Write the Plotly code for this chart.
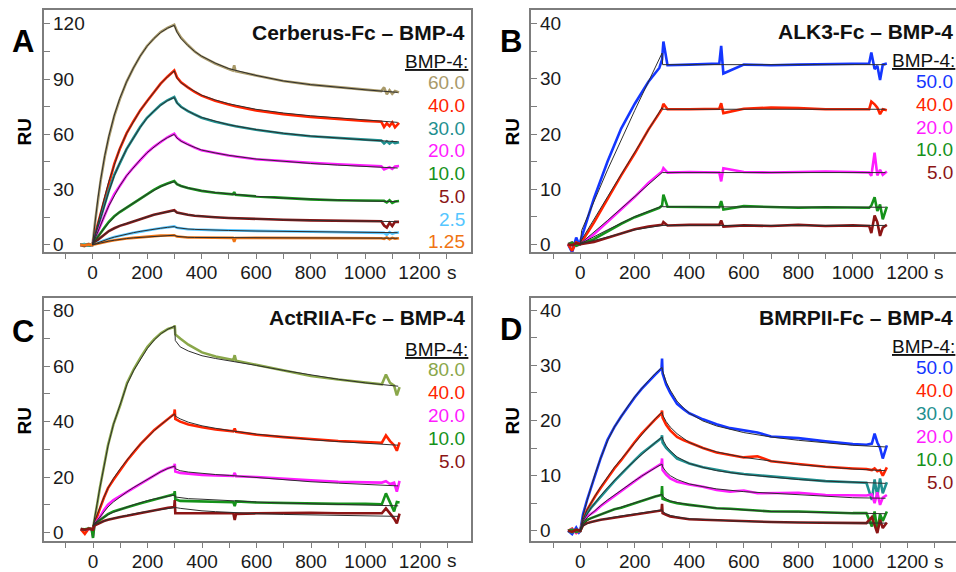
import plotly.graph_objects as go

# ---------------- Panel A : Cerberus-Fc – BMP-4 ----------------
tA = [-45, -30, -15, -5,
      0, 10, 20, 30, 45, 60, 80, 100, 125, 150, 175, 200, 225, 250, 275, 300,
      310, 325, 350, 375, 400, 450, 500, 515, 520, 525, 600, 700, 800, 900, 1000,
      1060, 1070, 1080, 1090, 1100, 1110, 1125]
A_60 = [0, -0.8, 0.5, 0,
        0, 13, 25, 35, 48, 58.5, 70, 79, 88.5, 96, 102.5, 108, 112, 115.5, 117.8, 119.5,
        116, 112.5, 108.5, 105, 102.3, 98.5, 95.5, 94.7, 97.5, 94.3, 92, 89, 87, 85.5, 84.4,
        83.5, 85.5, 81.8, 84, 82, 83.5, 82.8]
A_40 = [0, 0.3, -0.5, 0,
        0, 6, 11.5, 17, 26, 34.5, 44, 52, 60.5, 67, 73, 78, 83, 87.5, 91.3, 94.7,
        91, 88.3, 85.5, 83, 81, 78.3, 76.2, 75.6, 75.3, 75.2, 73, 71, 69.5, 68.3, 67.3,
        66.8, 64, 66, 64.5, 66.5, 63.8, 66.2]
A_30 = [0, -0.4, 0.3, 0,
        0, 5, 10, 14.5, 22, 29.5, 38, 44, 52, 58, 64, 69, 72.5, 76, 78.5, 80.3,
        77.2, 75, 72.6, 70.6, 69, 66.8, 65, 64.6, 64.5, 64.4, 62.5, 60.5, 59, 58, 57,
        56.6, 55, 56.2, 55, 56, 55.2, 55.7]
A_20 = [0, 0.2, -0.3, 0,
        0, 3.7, 7.3, 11, 16.3, 21.5, 27.5, 32, 37.5, 42, 46.3, 50, 53.2, 56, 58.4, 60.4,
        58.2, 56.5, 54.5, 52.8, 51.3, 49.7, 48.5, 48.2, 48, 48, 46.5, 45.3, 44.5, 43.8, 43,
        42.6, 41, 41.8, 42.2, 41.2, 42.5, 42.8]
A_10 = [0, 0.4, -0.4, 0,
        0, 2.3, 4.5, 6.5, 9.5, 12.5, 15.5, 17.8, 20.3, 22.6, 25, 27.4, 29.8, 31.8, 33.3, 34.6,
        33, 32, 30.9, 30, 29.3, 28.3, 27.6, 27.4, 28.6, 27.2, 26.3, 25.3, 24.7, 24.2, 23.9,
        23.8, 23.9, 23, 24.2, 22.8, 23.5, 23.8]
A_5 = [0, -0.3, 0.3, 0,
       0, 1.5, 2.8, 4, 5.8, 7.5, 9, 10.3, 11.4, 12.6, 14, 15.3, 16.3, 17.2, 18, 18.8,
       17.6, 17, 16.3, 15.8, 15.4, 15, 14.6, 14.5, 14.4, 14.4, 14, 13.6, 13.3, 13.1, 13,
       12.8, 10.5, 9.4, 12, 10.2, 12.5, 12.5]
A_2_5 = [0, 0.2, -0.2, 0,
         0, 0.6, 1.2, 1.8, 2.6, 3.3, 4.2, 5, 5.8, 6.5, 7.3, 8, 8.5, 9, 9.5, 10,
         9.3, 8.9, 8.5, 8.3, 8.1, 8, 7.9, 7.9, 7.8, 7.8, 7.6, 7.4, 7.2, 7, 6.9,
         6.8, 6.5, 5.5, 6.9, 6, 6.6, 6.7]
A_1_25 = [0, -0.2, 0.2, 0,
          0, 0.4, 0.8, 1.1, 1.6, 2, 2.5, 3, 3.4, 3.8, 4.2, 4.5, 4.8, 5, 5.1, 5.2,
          4.5, 4.2, 4, 3.95, 3.9, 3.85, 3.8, 3.8, 1.7, 3.7, 3.8, 3.8, 3.7, 3.7, 3.6,
          3.6, 3.2, 4, 3, 3.8, 3.3, 3.6]
tA_fit = [0, 10, 20, 30, 45, 60, 80, 100, 125, 150, 175, 200, 225, 250, 275, 300,
          310, 325, 350, 375, 400, 450, 500, 600, 700, 800, 900, 1000, 1120]
A_60_fit = [0, 13.5, 25.5, 35.5, 48.5, 59, 70.5, 79.5, 88.5, 96, 102.5, 107.8, 112, 115.3, 117.6, 119.2,
            115.5, 112, 108.2, 105, 102.5, 98.7, 95.7, 92, 89, 87, 85.5, 84.2, 82.8]
A_40_fit = [0, 6.2, 12, 17.5, 26.3, 34.5, 44, 52.3, 60.5, 67, 73, 78, 83, 87.5, 91.2, 94.5,
            90.5, 88, 85.5, 83.2, 81.3, 78.7, 76.6, 73.6, 71.6, 70.1, 68.9, 67.8, 66.5]
A_30_fit = [0, 5, 10, 14.8, 22, 29, 37.5, 44.5, 52, 58, 63.8, 68.8, 72.6, 75.8, 78.3, 80,
            77, 74.8, 72.6, 70.7, 69.2, 67, 65.2, 62.6, 60.6, 59.1, 58, 57, 56]
A_20_fit = [0, 3.8, 7.5, 11, 16.2, 21.2, 27, 32, 37.5, 42, 46.2, 50, 53.2, 56, 58.2, 60,
            58, 56.3, 54.4, 52.9, 51.5, 49.9, 48.6, 46.6, 45.2, 44.2, 43.3, 42.5, 41.7]
A_10_fit = [0, 2.3, 4.5, 6.5, 9.4, 12.2, 15.3, 17.9, 20.4, 22.7, 25, 27.4, 29.6, 31.6, 33.1, 34.3,
            32.9, 31.9, 30.9, 30.1, 29.4, 28.4, 27.7, 26.4, 25.4, 24.7, 24.2, 23.8, 23.5]
A_5_fit = [0, 1.5, 2.8, 4, 5.8, 7.4, 9, 10.4, 11.6, 12.8, 14.1, 15.3, 16.3, 17.2, 17.9, 18.5,
           17.5, 16.9, 16.3, 15.9, 15.5, 15, 14.6, 14, 13.6, 13.3, 13, 12.8, 12.6]
A_2_5_fit = [0, 0.6, 1.2, 1.8, 2.6, 3.3, 4.2, 5, 5.8, 6.6, 7.3, 8, 8.5, 9, 9.5, 9.9,
             9.3, 8.9, 8.6, 8.4, 8.2, 8, 7.8, 7.5, 7.3, 7.1, 6.9, 6.8, 6.6]
A_1_25_fit = [0, 0.4, 0.8, 1.1, 1.6, 2, 2.5, 3, 3.4, 3.8, 4.1, 4.4, 4.7, 4.9, 5.1, 5.2,
              4.6, 4.3, 4.1, 4, 4, 3.9, 3.9, 3.8, 3.8, 3.7, 3.7, 3.6, 3.6]
A_labels = ["60.0", "40.0", "30.0", "20.0", "10.0", "5.0", "2.5", "1.25"]
A_yticks = [0, 30, 60, 90, 120]

# ---------------- Panel B : ALK3-Fc – BMP-4 ----------------
tB = [-45, -30, -15, -5, 0, 50, 100, 150, 200, 250, 290, 300, 305,
      320, 400, 510, 517, 525, 600, 700, 800, 900, 1000,
      1060, 1068, 1080, 1090, 1100, 1110, 1125]
B_50 = [0, -1.5, 1.2, 0, 0.5, 8.3, 15, 21, 25.5, 29.5, 32, 33.5, 36.8,
        32.5, 32.6, 32.8, 36, 31, 32.6, 32.5, 32.6, 32.7, 32.8,
        32.8, 34.8, 31.8, 32.4, 29.8, 32.6, 32.8]
B_40 = [0, -1.2, 0.3, 0, 0, 3.9, 8.2, 12.5, 16.5, 20.8, 23.8, 24.6, 25.5,
        24.5, 24.5, 24.6, 25.6, 23.8, 24.6, 24.8, 24.7, 24.5, 24.5,
        24.5, 25.9, 25.4, 24.8, 23.6, 24.5, 24.3]
B_20 = [0, 0.3, -0.3, 0, 0, 1.8, 4.1, 6.4, 8.6, 11.1, 12.7, 13.2, 13.8,
        13, 13.1, 13, 11.4, 13.8, 13.1, 13, 13.1, 13.2, 13.1,
        13, 12.4, 16.6, 12.5, 13.5, 12.6, 13.2]
B_10 = [0, 0.3, -0.3, 0, 0, 0.9, 2.3, 3.7, 4.9, 5.9, 6.6, 7, 9,
        6.8, 6.8, 6.7, 7.8, 6.3, 6.9, 6.7, 6.6, 6.7, 6.6,
        6.6, 7, 8.5, 6, 7.2, 4.5, 6.8]
B_5 = [0, -0.2, 0.2, 0, 0, 0.4, 1.2, 2, 2.7, 3.2, 3.4, 3.5, 4,
       3.4, 3.5, 3.5, 4.3, 3.2, 3.4, 3.3, 3.5, 3.3, 3.4,
       3.3, 2, 5.2, 4, 1.5, 3, 3.5]
tB_fit = [0, 5, 100, 200, 300, 302, 1120]
B_50_fit = [0, 2.5, 13.5, 24.3, 34.7, 32.6, 32.6]
B_40_fit = [0, 0.8, 8.6, 16.8, 24.8, 24.5, 24.5]
B_20_fit = [0, 0.3, 4.3, 8.7, 13, 13, 13]
B_10_fit = [0, 0.2, 2.6, 5, 6.9, 6.8, 6.7]
B_5_fit = [0, 0.1, 1.3, 2.6, 3.4, 3.4, 3.4]
B_labels = ["50.0", "40.0", "20.0", "10.0", "5.0"]
B_yticks = [0, 10, 20, 30, 40]

# ---------------- Panel C : ActRIIA-Fc – BMP-4 ----------------
tC = [-45, -30, -15, -5,
      0, 5, 15, 25, 40, 55, 75, 100, 125, 150, 175, 200, 225, 250, 275, 298, 300,
      302, 320, 350, 400, 450, 515, 520, 525, 600, 700, 800, 900, 1000,
      1060, 1075, 1090, 1105, 1115, 1125]
C_80 = [1.2, 0.8, 1.5, 1.2,
        1.5, 4, 10, 16, 24, 31.5, 39, 46, 54, 59, 63.2, 67, 69.8, 72, 73.5, 74.2, 74.8,
        71.5, 70, 67.8, 65, 63.5, 62.3, 64, 62, 60.5, 58.5, 56.5, 55.2, 54.2,
        53.5, 57, 54, 53, 49.5, 52.5]
C_40 = [1.2, -0.5, 1.5, 1.2,
        1.5, 3, 6, 8.5, 12.5, 16, 19, 22.5, 26, 29, 32, 34.5, 37, 39, 41, 42.8, 44.4,
        41, 40, 39, 38, 37.2, 36.5, 37.5, 36.3, 35.3, 34.4, 33.6, 33, 32.6,
        32.4, 35, 33, 31.5, 29.5, 32.5]
C_20 = [1.2, 1, 1.3, 1.2,
        -1.5, 2.5, 4.2, 5.5, 8, 10, 11.7, 13.2, 14.7, 16.1, 17.6, 19, 20.5, 22, 23.2, 23.8, 24.8,
        22, 21.5, 21.2, 20.8, 20.6, 20.4, 21.5, 20.3, 20, 19.3, 18.8, 18.3, 18,
        18, 18.5, 17.5, 18, 14.7, 18.6]
C_10 = [1.2, 1.1, 1.4, 1.2,
        -2, 2.5, 3.7, 4.5, 5.7, 6.6, 7.6, 8.4, 9.1, 9.8, 10.5, 11.2, 12, 12.7, 13.3, 13.8, 14.9,
        12, 11.4, 11.3, 11.2, 11, 10.9, 9.5, 11.2, 10.8, 10.6, 10.5, 10.3, 10.3,
        10.2, 14.1, 10.5, 7.6, 11, 10.8]
C_5 = [1.2, 1, 1.3, 1.2,
       1, 2.5, 3, 3.5, 4.1, 4.6, 5.1, 5.6, 6, 6.5, 7.1, 7.6, 8.1, 8.5, 8.9, 9.2, 11.7,
       6.9, 6.9, 6.9, 6.8, 6.9, 6.9, 4.5, 6.7, 6.9, 7, 7.1, 6.9, 6.8,
       6.9, 8.7, 7, 5, 3.3, 6.8]
tC_fit = [0, 5, 15, 25, 40, 55, 75, 100, 125, 150, 175, 200, 225, 250, 275, 300,
          302, 320, 350, 400, 450, 500, 600, 700, 800, 900, 1000, 1120]
C_80_fit = [2, 4.5, 10.3, 16, 24, 31.2, 39, 46.5, 53.5, 58.6, 62.8, 66.5, 69.5, 71.8, 73.4, 74.5,
            69.3, 67, 65.5, 63.8, 62.8, 62, 60.3, 58.5, 56.8, 55.3, 54, 52.8]
C_40_fit = [2.5, 3.8, 6.5, 9, 12.7, 16, 19.5, 23, 26.3, 29.3, 32, 34.5, 36.8, 39, 41, 42.8,
            42, 41, 39.8, 38.5, 37.6, 36.8, 35.5, 34.4, 33.5, 32.8, 32.2, 31.5]
C_20_fit = [2.5, 3, 4.3, 5.5, 7.4, 9.2, 11, 13, 14.7, 16.3, 17.8, 19.3, 20.7, 22, 23.1, 24,
            23, 22.3, 21.8, 21.3, 20.9, 20.6, 19.8, 19, 18.3, 17.8, 17.3, 16.8]
C_10_fit = [2.5, 3, 3.8, 4.5, 5.5, 6.4, 7.3, 8.3, 9.2, 10, 10.8, 11.5, 12.1, 12.6, 13.1, 13.5,
            12.8, 12.5, 12.2, 12, 11.7, 11.4, 11, 10.6, 10.3, 10, 9.8, 9.6]
C_5_fit = [2.5, 2.8, 3.2, 3.5, 4.1, 4.6, 5.1, 5.7, 6.2, 6.7, 7.2, 7.6, 8, 8.4, 8.8, 9.2,
           9, 8.7, 8.3, 7.8, 7.5, 7.2, 6.8, 6.5, 6.3, 6.1, 6, 5.8]
C_labels = ["80.0", "40.0", "20.0", "10.0", "5.0"]
C_yticks = [0, 20, 40, 60, 80]

# ---------------- Panel D : BMRPII-Fc – BMP-4 ----------------
tD = [-45, -30, -15, -5,
      0, 10, 25, 40, 55, 75, 100, 125, 150, 175, 200, 225, 250, 275, 298, 300,
      302, 315, 330, 355, 380, 400, 450, 500, 550, 600, 650, 700, 800, 900, 1000,
      1050, 1070, 1080, 1090, 1100, 1110, 1125]
D_50 = [0, -0.6, 0.6, -0.3,
        0, 3, 5.6, 8, 10.3, 13.2, 16.5, 18.8, 20.7, 22.5, 24.2, 25.7, 27.1, 28.3, 29.4, 31.2,
        28.5, 26.5, 25, 23, 22, 21.3, 20.2, 19.3, 18.6, 18.2, 17.8, 17.1, 16.8, 16.2, 15.7,
        15.6, 15.8, 17.6, 16, 15, 13.1, 15.5]
D_40 = [0, 0.4, -0.4, 0,
        0, 2, 3.8, 5.1, 6.3, 7.8, 9.6, 11.3, 12.8, 14.5, 16.1, 17.6, 19, 20.2, 21.3, 21.8,
        20.5, 19.2, 18.2, 17, 16.4, 16, 15, 14.2, 13.8, 13.3, 13.5, 12.6, 12.1, 11.6, 11.3,
        11.2, 11, 11.3, 10.8, 11, 10, 11.5]
D_30 = [0, -0.3, 0.3, 0,
        0, 1.8, 3.2, 4.2, 5.1, 6.3, 7.6, 9, 10.3, 11.6, 12.8, 14, 15, 16, 16.8, 17.3,
        16, 15, 14.3, 13.1, 12.6, 12.2, 11.5, 11, 10.6, 10.3, 10.1, 9.8, 9.4, 9, 8.8,
        8.7, 5.6, 9.3, 6.2, 9.5, 6.8, 8.8]
D_20 = [0, 0.3, -0.3, 0,
        0, 1.6, 2.6, 3.1, 3.6, 4.5, 5.4, 6.4, 7.3, 8.2, 9, 9.9, 10.7, 11.5, 12.2, 13.1,
        11, 10.2, 9.5, 8.9, 8.6, 8.4, 8, 7.4, 7.1, 7.3, 6.8, 6.8, 6.9, 6.5, 6.4,
        6.4, 6.6, 5, 7, 4.7, 6, 6.5]
D_10 = [0, 0.2, -0.2, 0,
        0, 1.3, 2, 2.3, 2.6, 3, 3.5, 3.9, 4.2, 4.6, 5, 5.5, 5.9, 6.2, 6.5, 8.1,
        5.8, 5.5, 5.3, 5, 4.8, 4.7, 4.4, 4.1, 4, 3.8, 3.7, 3.5, 3.5, 3.3, 3.2,
        3.2, 0.8, 3.5, 0, 3, 1.8, 3.5]
D_5 = [0, -0.2, 0.2, 0,
       0, 1, 1.4, 1.6, 1.8, 2, 2.2, 2.4, 2.6, 2.8, 2.9, 3.2, 3.4, 3.6, 3.7, 4.9,
       3.2, 2.9, 2.6, 2.4, 2.2, 2.1, 2, 1.9, 1.8, 1.7, 1.6, 1.6, 1.5, 1.5, 1.4,
       1.4, 2.5, 1, -0.4, 2, 0.5, 1.5]
tD_fit = [0, 10, 25, 40, 55, 75, 100, 125, 150, 175, 200, 225, 250, 275, 300,
          302, 315, 330, 355, 380, 400, 450, 500, 600, 700, 800, 900, 1000, 1120]
D_50_fit = [0, 2.8, 5.5, 8.1, 10.4, 13.2, 16.3, 18.8, 20.8, 22.6, 24.3, 25.8, 27.2, 28.5, 29.6,
            29, 27, 25.5, 23.5, 22.2, 21.3, 19.9, 19, 17.8, 17, 16.4, 15.9, 15.5, 15.2]
D_40_fit = [0, 2, 3.8, 5.2, 6.4, 8, 9.8, 11.5, 13, 14.5, 16, 17.5, 19, 20.3, 21.5,
            21, 19.8, 18.8, 17.6, 16.7, 16, 15, 14.3, 13.3, 12.6, 12, 11.6, 11.2, 10.9]
D_30_fit = [0, 1.7, 3, 4.2, 5.1, 6.4, 7.8, 9.2, 10.4, 11.6, 12.7, 13.9, 15, 16, 17,
            16.6, 15.4, 14.5, 13.4, 12.7, 12.2, 11.5, 10.9, 10.2, 9.7, 9.3, 9, 8.8, 8.6]
D_20_fit = [0, 1.4, 2.4, 3.1, 3.7, 4.6, 5.6, 6.5, 7.4, 8.3, 9.1, 9.9, 10.7, 11.4, 12.1,
            11.6, 10.7, 10, 9.3, 8.8, 8.5, 8, 7.6, 7.1, 6.8, 6.5, 6.2, 6, 5.9]
D_10_fit = [0, 1.1, 1.8, 2.3, 2.6, 3, 3.5, 3.9, 4.3, 4.7, 5.1, 5.5, 5.8, 6.2, 6.6,
            6.3, 5.8, 5.4, 5.1, 4.9, 4.7, 4.4, 4.1, 3.8, 3.5, 3.4, 3.3, 3.2, 3.1]
D_5_fit = [0, 0.9, 1.3, 1.6, 1.8, 2, 2.3, 2.5, 2.7, 2.9, 3.1, 3.3, 3.4, 3.6, 3.8,
           3.5, 3.1, 2.8, 2.5, 2.3, 2.2, 2.05, 1.9, 1.7, 1.6, 1.5, 1.5, 1.4, 1.4]
D_labels = ["50.0", "40.0", "30.0", "20.0", "10.0", "5.0"]
D_yticks = [0, 10, 20, 30, 40]

# ---------------- styles ----------------
TAN, RED, TEAL, MAG, GRN, DRED, LBLUE, ORNG = ("#a99a6a", "#ff2400", "#1f9090", "#ff1cff",
                                              "#15921a", "#8c1515", "#55c6ff", "#f07412")
BLUE, OLIVE = "#1436ff", "#8aa74a"
FONT = "Liberation Sans, Arial, sans-serif"
W, H = 956, 572
BORDER = "#7d7d7d"
TXT = "#1a1a1a"

panels = [
    dict(ax="", t=tA, tf=tA_fit, title="Cerberus-Fc – BMP-4", letter="A",
         series=[A_60, A_40, A_30, A_20, A_10, A_5, A_2_5, A_1_25],
         fits=[A_60_fit, A_40_fit, A_30_fit, A_20_fit, A_10_fit, A_5_fit, A_2_5_fit, A_1_25_fit],
         colors=[TAN, RED, TEAL, MAG, GRN, DRED, LBLUE, ORNG], labels=A_labels, yticks=A_yticks,
         box=(44, 471, 10, 253), t0px=92.5, y0px=245.7, ypx_per=1.848, yminor=15,
         right=True, title_y=33, bmp_y=62, leg_y0=83, leg_dy=22.8, text_r=467, bmp_r=470,
         letter_xy=(23, 42), ru_xy=(25, 133)),
    dict(ax="2", t=tB, tf=tB_fit, title="ALK3-Fc – BMP-4", letter="B",
         series=[B_50, B_40, B_20, B_10, B_5],
         fits=[B_50_fit, B_40_fit, B_20_fit, B_10_fit, B_5_fit],
         colors=[BLUE, RED, MAG, GRN, DRED], labels=B_labels, yticks=B_yticks,
         box=(531, 956, 10, 253), t0px=580.3, y0px=245.0, ypx_per=5.525, yminor=5,
         right=False, title_y=32, bmp_y=61, leg_y0=82, leg_dy=22.8, text_r=955, bmp_r=957,
         letter_xy=(511, 42), ru_xy=(513, 133)),
    dict(ax="3", t=tC, tf=tC_fit, title="ActRIIA-Fc – BMP-4", letter="C",
         series=[C_80, C_40, C_20, C_10, C_5],
         fits=[C_80_fit, C_40_fit, C_20_fit, C_10_fit, C_5_fit],
         colors=[OLIVE, RED, MAG, GRN, DRED], labels=C_labels, yticks=C_yticks,
         box=(44, 471, 299.3, 542.7), t0px=93.0, y0px=534.3, ypx_per=2.779, yminor=10,
         right=True, title_y=319, bmp_y=351, leg_y0=371, leg_dy=23.0, text_r=467, bmp_r=470,
         letter_xy=(23, 333), ru_xy=(25, 423)),
    dict(ax="4", t=tD, tf=tD_fit, title="BMRPII-Fc – BMP-4", letter="D",
         series=[D_50, D_40, D_30, D_20, D_10, D_5],
         fits=[D_50_fit, D_40_fit, D_30_fit, D_20_fit, D_10_fit, D_5_fit],
         colors=[BLUE, RED, TEAL, MAG, GRN, DRED], labels=D_labels, yticks=D_yticks,
         box=(531, 956, 299, 543), t0px=580.3, y0px=532.7, ypx_per=5.54, yminor=5,
         right=False, title_y=319, bmp_y=348, leg_y0=369, leg_dy=23.0, text_r=955, bmp_r=957,
         letter_xy=(511, 331), ru_xy=(513, 423)),
]

XPX_PER = 0.2725  # pixels per second

fig = go.Figure()
annotations = []
layout = {}


def px(x):
    return x / W


def py(y):
    return 1 - y / H


for p in panels:
    xa = "x" + p["ax"]
    ya = "y" + p["ax"]
    for ser, col in zip(p["series"], p["colors"]):
        fig.add_trace(go.Scatter(x=p["t"], y=ser, mode="lines", xaxis=xa, yaxis=ya,
                                 line=dict(color=col, width=2.6), showlegend=False,
                                 hoverinfo="skip"))
    for fit in p["fits"]:
        fig.add_trace(go.Scatter(x=p["tf"], y=fit, mode="lines", xaxis=xa, yaxis=ya,
                                 line=dict(color="#2e2e2e", width=1.0), showlegend=False,
                                 hoverinfo="skip"))
    L, R, T, B = p["box"]
    xr = [(L - p["t0px"]) / XPX_PER, (R - p["t0px"]) / XPX_PER]
    yr = [-(B - p["y0px"]) / p["ypx_per"], (p["y0px"] - T) / p["ypx_per"]]
    key = p["ax"]
    layout["xaxis" + key] = dict(
        domain=[px(L), px(R)], range=xr, anchor=ya, showgrid=False, zeroline=False,
        showline=True, linecolor=BORDER, linewidth=2, mirror=True,
        ticks="outside", ticklen=5, tickwidth=1.3, tickcolor=BORDER,
        tickmode="linear", tick0=0, dtick=200, ticklabelstandoff=-3,
        minor=dict(ticks="outside", ticklen=5, tickwidth=1.3, tickcolor=BORDER,
                   tickmode="linear", tick0=0, dtick=100),
        tickfont=dict(family=FONT, size=19, color=TXT), fixedrange=True)
    layout["yaxis" + key] = dict(
        domain=[py(B), py(T)], range=yr, anchor=xa, showgrid=False, zeroline=False,
        showline=True, linecolor=BORDER, linewidth=2, mirror=p["right"],
        ticks="inside", ticklen=6, tickwidth=1.3, tickcolor=BORDER,
        tickmode="array", tickvals=p["yticks"], showticklabels=False,
        minor=dict(ticks="inside", ticklen=6, tickwidth=1.3, tickcolor=BORDER,
                   tickmode="linear", tick0=0, dtick=p["yminor"]),
        fixedrange=True)
    # y tick labels drawn inside the frame, left aligned
    for v in p["yticks"]:
        annotations.append(dict(xref="paper", yref=ya, x=px(L + 7), y=v, text=str(v),
                                xanchor="left", yanchor="middle", showarrow=False,
                                font=dict(family=FONT, size=19, color=TXT)))
    # "s" unit after 1200
    annotations.append(dict(xref=xa, yref="paper", x=1200, y=py(B + 20), text="s",
                            xanchor="left", yanchor="middle", xshift=25, showarrow=False,
                            font=dict(family=FONT, size=19, color=TXT)))
    annotations.append(dict(xref="paper", yref="paper", x=px(p["text_r"]), y=py(p["title_y"]),
                            text="<b>" + p["title"] + "</b>", xanchor="right", yanchor="middle",
                            showarrow=False, font=dict(family=FONT, size=21, color="#111")))
    annotations.append(dict(xref="paper", yref="paper", x=px(p["bmp_r"]), y=py(p["bmp_y"]),
                            text="<u>BMP-4:</u>", xanchor="right", yanchor="middle",
                            showarrow=False, font=dict(family=FONT, size=19, color="#111")))
    for i, (lab, col) in enumerate(zip(p["labels"], p["colors"])):
        annotations.append(dict(xref="paper", yref="paper", x=px(p["text_r"]),
                                y=py(p["leg_y0"] + i * p["leg_dy"]), text=lab,
                                xanchor="right", yanchor="middle", showarrow=False,
                                font=dict(family=FONT, size=19, color=col)))
    lx, ly = p["letter_xy"]
    annotations.append(dict(xref="paper", yref="paper", x=px(lx), y=py(ly),
                            text="<b>" + p["letter"] + "</b>", xanchor="center",
                            yanchor="middle", showarrow=False,
                            font=dict(family=FONT, size=31, color="#000")))
    rx, ry = p["ru_xy"]
    annotations.append(dict(xref="paper", yref="paper", x=px(rx), y=py(ry), text="<b>RU</b>",
                            textangle=-90, xanchor="center", yanchor="middle",
                            showarrow=False, font=dict(family=FONT, size=19, color="#000")))

fig.update_layout(width=W, height=H, margin=dict(l=0, r=0, t=0, b=0),
                  paper_bgcolor="white", plot_bgcolor="white",
                  annotations=annotations, **layout)
fig.write_html("out.html", include_plotlyjs=True, config={"displayModeBar": False},
               post_script="document.body.style.margin='0';document.body.style.overflow='hidden';")
